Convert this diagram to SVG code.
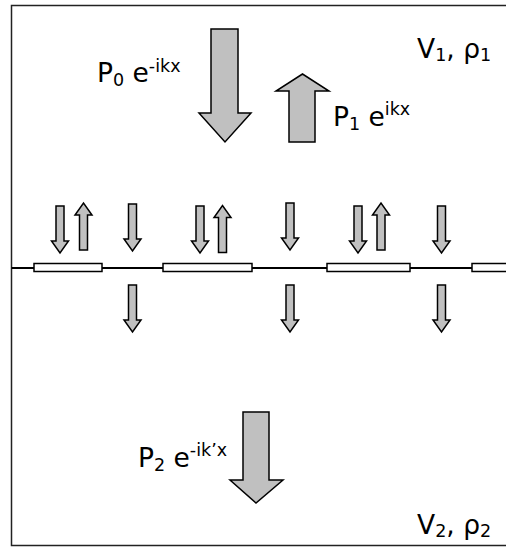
<svg xmlns="http://www.w3.org/2000/svg" xmlns:xlink="http://www.w3.org/1999/xlink" width="506" height="548" viewBox="0 0 506 548">
<style>
.arr{fill:#c0c0c0;stroke:#000;stroke-width:1.5;stroke-linejoin:miter}
.frame{fill:none;stroke:#222;stroke-width:1.5}
.line{fill:none;stroke:#000;stroke-width:2}
.plate{fill:#fff;stroke:#000;stroke-width:1.5}
.t{font-family:"DejaVu Sans","Verdana",sans-serif;font-size:26.5px;fill:#000}
.s{font-size:17.5px}
</style>
<defs>
<path id="sdown" class="arr" d="M-4,0 H4 V35 H8.5 L0,47 L-8.5,35 H-4 Z"/>
</defs>
<rect width="506" height="548" fill="#fff"/>
<path class="frame" d="M507,5.5 H11.5 V545.5 H507"/>

<g id="incident">
<path class="arr" d="M211,29 H238 V113 H251 L225,142 L199,113 H211 Z"/>
<text class="t" x="97" y="82">P<tspan class="s" dy="4">0</tspan><tspan dy="-4"> e</tspan><tspan class="s" dy="-10">-ikx</tspan></text>
</g>
<g id="reflected">
<path class="arr" d="M289,142 V91 H276 L302.5,74 L329,91 H315 V142 Z"/>
<text class="t" x="333" y="126">P<tspan class="s" dy="4">1</tspan><tspan dy="-4"> e</tspan><tspan class="s" dy="-11">ikx</tspan></text>
</g>
<g id="medium1">
<text class="t" x="417" y="58">V<tspan class="s" dy="3">1</tspan><tspan dy="-3">, ρ</tspan><tspan class="s" dy="3">1</tspan></text>
</g>

<g id="interface">
<path class="line" d="M11.5,268 H507"/>
<rect class="plate" x="34" y="263.5" width="68" height="8"/>
<rect class="plate" x="163" y="263.5" width="89" height="8"/>
<rect class="plate" x="327" y="263.5" width="83" height="8"/>
<rect class="plate" x="472" y="263.5" width="40" height="8"/>
</g>

<g id="connectors">
<use xlink:href="#sdown" transform="translate(60,206)"/>
<use xlink:href="#sdown" transform="translate(83.5,250) rotate(180)"/>
<use xlink:href="#sdown" transform="translate(132.5,204)"/>
<use xlink:href="#sdown" transform="translate(200,206)"/>
<use xlink:href="#sdown" transform="translate(222.5,252.5) rotate(180)"/>
<use xlink:href="#sdown" transform="translate(290,203)"/>
<use xlink:href="#sdown" transform="translate(358,206)"/>
<use xlink:href="#sdown" transform="translate(381,250) rotate(180)"/>
<use xlink:href="#sdown" transform="translate(441.5,206)"/>
<use xlink:href="#sdown" transform="translate(132.5,285)"/>
<use xlink:href="#sdown" transform="translate(290,285)"/>
<use xlink:href="#sdown" transform="translate(441.5,285)"/>
</g>

<g id="transmitted">
<path class="arr" d="M243,412 H269 V480 H283 L256,503 L230,480 H243 Z"/>
<text class="t" x="138" y="467">P<tspan class="s" dy="4">2</tspan><tspan dy="-4"> e</tspan><tspan class="s" dy="-11">-ik’x</tspan></text>
</g>
<g id="medium2">
<text class="t" x="417" y="534">V<tspan class="s" dy="3">2</tspan><tspan dy="-3">, ρ</tspan><tspan class="s" dy="3">2</tspan></text>
</g>
</svg>
